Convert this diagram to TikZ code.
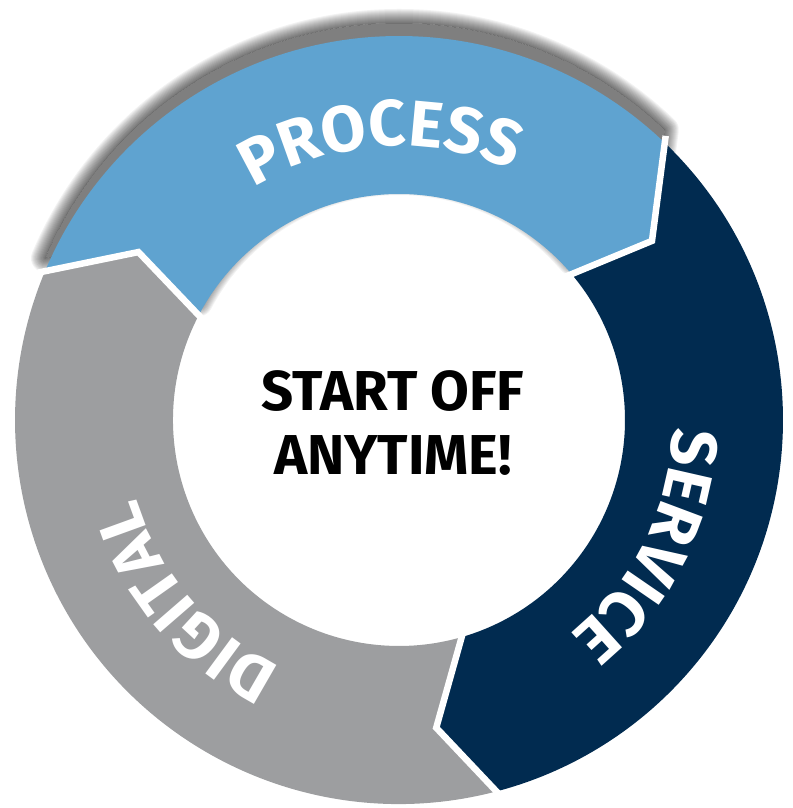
\documentclass[tikz,border=0pt]{standalone}
\usepackage{fontspec}
\setmainfont{Fira Sans}
\usetikzlibrary{decorations.text}

\definecolor{procblue}{RGB}{95,163,208}
\definecolor{servnavy}{RGB}{1,43,80}
\definecolor{digigrey}{RGB}{157,158,160}

\begin{document}
\begin{tikzpicture}[x=0.02cm, y=0.02cm,
    gapline/.style={draw=white, line width=3.7pt, line join=miter, shorten <=-4pt, shorten >=-4pt},
    ringtext/.style={decorate, decoration={text along path, text={|\ringfont|#1}, text align=center, text color=white}},
    midtext/.style={align=center, font=\bfseries\fontsize{32}{36}\selectfont}]

    \newcommand*{\outrad}{384}%
    \newcommand*{\inrad}{226}%
    \newcommand*{\tiprad}{310}%
    \newcommand*{\textrad}{274}%
    \newcommand*{\ringfont}{\bfseries\fontsize{37}{40}\selectfont}%

    \useasboundingbox (0,0) rectangle (792,808);

  \begin{scope}[shift={(399,388)}]

    % chevron corners: outer, tip, inner
    \coordinate (lo) at (157.2:\outrad);
    \coordinate (lt) at (147.2:\tiprad);
    \coordinate (li) at (152.4:\inrad);
    \coordinate (ro) at (46.2:\outrad);
    \coordinate (rt) at (35.3:\tiprad);
    \coordinate (ri) at (40.2:\inrad);
    \coordinate (bo) at (-75.3:\outrad);
    \coordinate (bt) at (-83.1:\tiprad);
    \coordinate (bi) at (-73.9:\inrad);

    % soft shadow above the top arrow
    \begin{scope}[shift={(0,13)}]
      \fill[black, opacity=0.5] (157.2:\outrad) arc (157.2:46.2:\outrad)
          -- (35.3:\tiprad) -- (40.2:\inrad) arc (40.2:152.4:\inrad) -- (147.2:\tiprad) -- cycle;
      \begin{scope}
        \clip (500,-500) rectangle (-500,500)
          (157.2:\outrad) arc (157.2:46.2:\outrad)
          -- (35.3:\tiprad) -- (40.2:\inrad) arc (40.2:152.4:\inrad) -- (147.2:\tiprad) -- cycle;
        \foreach \w in {1,...,14}
          {\pgfmathsetmacro{\lw}{\w*1.14}
           \draw[black, opacity=0.05, line width=\lw pt, line join=round]
             (157.2:\outrad) arc (157.2:46.2:\outrad)
             -- (35.3:\tiprad) -- (40.2:\inrad) arc (40.2:152.4:\inrad) -- (147.2:\tiprad) -- cycle;}
      \end{scope}
    \end{scope}

    \fill[procblue] (lo) arc (157.2:46.2:\outrad)
        -- (rt) -- (ri) arc (40.2:152.4:\inrad) -- (lt) -- cycle;
    \fill[servnavy] (ro) arc (46.2:-75.3:\outrad)
        -- (bt) -- (bi) arc (-73.9:40.2:\inrad) -- (rt) -- cycle;
    \fill[digigrey] (bo) arc (-75.3:-202.8:\outrad)
        -- (lt) -- (li) arc (-207.6:-73.9:\inrad) -- (bt) -- cycle;

    \draw[gapline] (lo) -- (lt) -- (li);
    \draw[gapline] (ro) -- (rt) -- (ri);
    \draw[gapline] (bo) -- (bt) -- (bi);

    \path[ringtext=PROCESS] (153.8:\textrad) arc (153.8:33.8:\textrad);
    \path[ringtext=SERVICE] (33.5:\textrad) arc (33.5:-86.5:\textrad);
    \path[ringtext=DIGITAL] (280.5:\textrad) arc (280.5:160.5:\textrad);

    \node[midtext] (start) at (-6,-3) {START OFF\\ANYTIME!};

  \end{scope}
\end{tikzpicture}
\end{document}
